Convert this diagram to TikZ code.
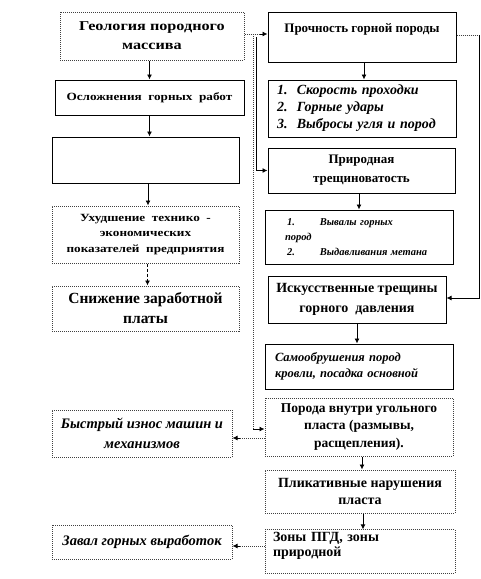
\documentclass[tikz,border=0pt]{standalone}
\usepackage{fontspec}
\setmainfont{Liberation Serif}
\newfontfamily\widefont[FakeStretch=1.2]{Liberation Serif}
\usetikzlibrary{arrows.meta}
\begin{document}
\begin{tikzpicture}[x=1pt,y=-1pt,
  box/.style={draw=black, line width=1pt, inner sep=2pt, align=center},
  dbox/.style={box, draw=black!75, densely dotted, line width=1pt},
  arr/.style={-{Latex[length=5pt,width=5pt]}, line width=0.9pt},
  dotl/.style={densely dotted, line width=1pt, draw=black!75},
  fb/.style 2 args={font=\bfseries\fontsize{#1}{#2}\selectfont},
  fi/.style 2 args={font=\bfseries\itshape\fontsize{#1}{#2}\selectfont},
  fw/.style 2 args={font=\widefont\bfseries\fontsize{#1}{#2}\selectfont},
]
\useasboundingbox (0,0) rectangle (480,579);
% left column
\node[dbox, fw={13.5}{19}, minimum width=184pt, minimum height=48pt] (L1) at (152,36) {Геология породного\\массива};
\node[box, fw={11}{15}, minimum width=189pt, minimum height=35pt] (L2) at (149.5,97.5) {Осложнения\ \ горных\ \ работ};
\node[box, minimum width=187pt, minimum height=46pt] (L3) at (145.5,160) {};
\node[dbox, fw={11}{15.5}, minimum width=187pt, minimum height=57pt] (L4) at (145.5,234.5) {Ухудшение\ \ технико\ \ -\\экономических\\показателей\ \ предприятия};
\node[dbox, fb={15.5}{20}, minimum width=187pt, minimum height=45pt] (L5) at (145.5,308.5) {Снижение заработной\\платы};
\node[dbox, fi={14.5}{20}, minimum width=180pt, minimum height=47pt] (L6) at (142,433.5) {Быстрый износ машин и\\механизмов};
\node[dbox, fi={14.5}{18}, minimum width=180pt, minimum height=34pt] (L7) at (142,542) {Завал горных выработок};
% right column
\node[box, fb={13}{18}, minimum width=188pt, minimum height=50pt] (R1) at (362,37) {Прочность горной породы\\\mbox{}};
\node[box, fi={14}{17}, minimum width=188pt, minimum height=57pt, text width=170pt, align=left] (R2) at (362,108.5) {1.\ \ Скорость проходки\\2.\ \ Горные удары\\3.\ \ Выбросы угля и пород};
\node[box, fb={13}{19}, minimum width=187pt, minimum height=45pt] (R3) at (361.5,170.5) {Природная\\трещиноватость};
\node[box, fi={10.5}{15}, minimum width=188pt, minimum height=54pt, text width=148pt, align=left] (R4) at (359,237) {\hspace*{2pt}1.\hspace{25pt}Вывалы горных\\пород\\\hspace*{2pt}2.\hspace{25pt}Выдавливания метана};
\node[box, fb={14}{20}, minimum width=178pt, minimum height=47pt] (R5) at (357,299.5) {Искусственные трещины\\горного\ \ давления};
\node[box, fi={12.5}{16}, minimum width=188pt, minimum height=45pt, text width=168pt, align=left] (R6) at (359,366.5) {Самообрушения пород\\кровли, посадка основной};
\node[dbox, fb={13.5}{17.5}, minimum width=188pt, minimum height=58pt] (R7) at (359,427) {Порода внутри угольного\\пласта (размывы,\\расщепления).};
\node[dbox, fb={14}{17}, minimum width=190pt, minimum height=43pt] (R8) at (360,491.5) {Пликативные нарушения\\пласта};
\node[dbox, fb={14}{15}, minimum width=190pt, minimum height=43pt, text width=174pt, align=left] (R9) at (360,551.5) {Зоны ПГД, зоны\\природной\\\mbox{}};
% vertical arrows
\draw[arr] (L2.north |- L1.south) -- (L2.north);
\draw[arr] (L2.south) -- (L2.south |- L3.north);
\draw[arr] ([xshift=2.5pt]L3.south) -- ([xshift=2.5pt]L4.north);
\draw[arr, densely dashed] ([xshift=2pt]L4.south) -- ([xshift=2pt]L5.north);
\draw[arr] ([xshift=2pt]R1.south) -- ([xshift=2pt]R1.south |- R2.north);
\draw[arr] (R4.north |- R3.south) -- (R4.north);
\draw[arr] (R5.south) -- (R5.south |- R6.north);
\draw[arr] ([xshift=3pt]R7.south) -- ([xshift=3pt]R7.south |- R8.north);
\draw[arr] ([xshift=3pt]R8.south) -- ([xshift=3pt]R9.north);
% side connectors
\draw[dotl] ([yshift=2pt]L1.east) -- ([yshift=2pt,xshift=-7pt]L1.east -| R1.west);
\draw[arr] ([yshift=2pt,xshift=-8pt]L1.east -| R1.west) -- ([yshift=2pt]L1.east -| R1.west);
\coordinate (j1) at (253,34);
\draw[dotl] (j1) -- (253,429) coordinate (j2);
\draw[arr] (j2) -- (j2 -| R7.west);
\coordinate (j3) at (256,37);
\draw[arr] (j3) |- (R3.west);
\draw[dotl] ([yshift=2pt]R1.east) -- ([yshift=2pt]R1.east -| 479,0) coordinate (j4);
\draw[arr] (j4) |- ([yshift=1.5pt]R5.east);
\draw[dotl] ([yshift=-11pt]R7.west) -- ([yshift=-11pt,xshift=6pt]R7.west -| L6.east);
\draw[arr] ([yshift=-11pt,xshift=7pt]R7.west -| L6.east) -- ([yshift=-11pt]R7.west -| L6.east);
\draw[dotl] ([yshift=5.5pt]R9.west) -- ([yshift=5.5pt,xshift=6pt]R9.west -| L7.east);
\draw[arr] ([yshift=5.5pt,xshift=7pt]R9.west -| L7.east) -- ([yshift=5.5pt]R9.west -| L7.east);
\end{tikzpicture}
\end{document}
